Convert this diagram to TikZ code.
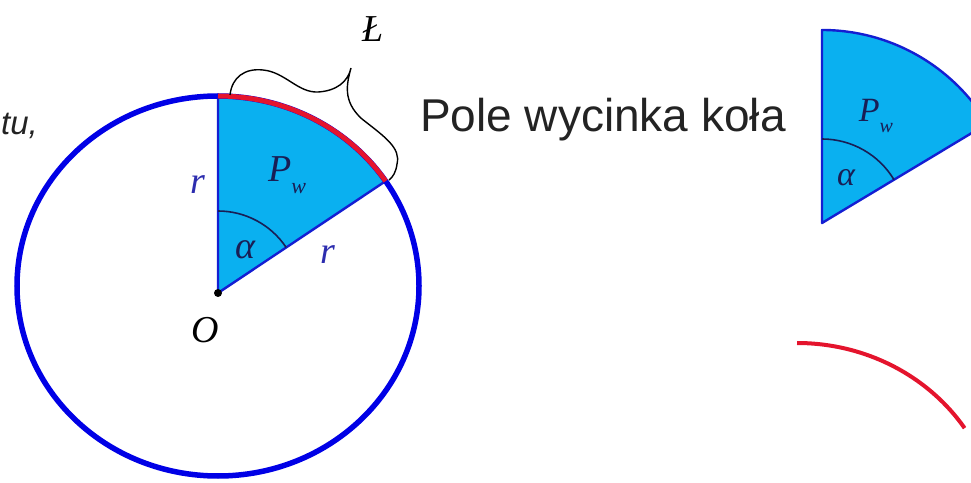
\documentclass[tikz,border=0pt]{standalone}
\usepackage{fontspec}
\setmainfont{Liberation Serif}
\newfontfamily\arialfont{Liberation Sans}
\definecolor{circblue}{RGB}{0,0,230}
\definecolor{wedgecyan}{RGB}{10,176,240}
\definecolor{edgeblue}{RGB}{20,30,210}
\definecolor{arcred}{RGB}{228,20,45}
\definecolor{labblue}{RGB}{45,45,175}
\definecolor{inkdark}{RGB}{25,30,85}
\definecolor{textgray}{RGB}{35,35,35}
\usetikzlibrary{calc}

\begin{document}
\begin{tikzpicture}[x=1pt, y=1pt,
  circ/.style={draw=circblue, line width=5.5pt},
  wedge/.style={fill=wedgecyan, draw=edgeblue, line width=2.4pt, line join=round},
  arcline/.style={draw=arcred, line width=5pt},
  anglearc/.style={draw=inkdark, line width=1.6pt},
  mlbl/.style={font=\fontsize{38}{38}\selectfont\itshape, inner sep=0pt},
  slbl/.style={font=\fontsize{34}{34}\selectfont\itshape, inner sep=0pt, text=inkdark},
  bracelin/.style={draw=black, line width=1.4pt}
]
  \clip (0,0) rectangle (971,482);

  % --- circle with the sector ---
  \coordinate (C) at (218,196);
  \coordinate (O) at (218,189);
  \coordinate (T) at (218,386);
  \coordinate (P) at ($(C)+({201*cos(33.5)},{190*sin(33.5)})$);
  \filldraw[wedge] (O) -- (T) arc[start angle=90, end angle=33.5, x radius=201, y radius=190] -- cycle;
  \draw[circ] (C) ellipse[x radius=201, y radius=190];
  \draw[arcline] (T) arc[start angle=90, end angle=33.5, x radius=201, y radius=190];
  \draw[anglearc] ($(O)+(0,82)$) arc[start angle=90, end angle=33.8, radius=82];
  \fill[black] (O) circle (4);

  \node[mlbl, text=labblue] (rv) at (198,297) {r};
  \node[mlbl, text=labblue] (rs) at (328,227) {r};
  \node[mlbl, text=inkdark] (al) at (245,232) {α};
  \node[mlbl, text=inkdark] (pw) at (287,307) {P\raisebox{-0.3em}{\fontsize{22}{22}\selectfont w}};
  \node[mlbl, text=black] (ol) at (205,152) {O};
  \node[mlbl, text=black] (ll) at (373,453) {Ł};

  % --- brace over the arc ---
  \coordinate (bs) at (230,387);
  \coordinate (be) at (389,302);
  \draw[bracelin] (bs) .. controls (232,405) and (245,414) .. (263,412)
    .. controls (285,410) and (298,389) .. (318,390)
    .. controls (336,391) and (348,400) .. (351,414)
    .. controls (347,399) and (342,381) .. (362,363)
    .. controls (385,345) and (401,334) .. (397,318)
    .. controls (396,310) and (393,305) .. (be);

  % --- texts ---
  \node[anchor=base west, inner sep=0pt, text=textgray, font=\arialfont\itshape\fontsize{33}{33}\selectfont] (cut) at (1,347) {tu,};
  \node[anchor=base west, inner sep=0pt, text=textgray, font=\arialfont\fontsize{46}{46}\selectfont] (title) at (420,350) {Pole wycinka koła};

  % --- sector alone ---
  \coordinate (O2) at (822,259);
  \coordinate (T2) at (822,452);
  \filldraw[wedge] (O2) -- (T2) arc[start angle=90, end angle=31, radius=193] -- cycle;
  \draw[anglearc] ($(O2)+(0,84)$) arc[start angle=90, end angle=31, radius=84];
  \node[slbl] (al2) at (846,304) {α};
  \node[slbl] (pw2) at (876,366) {P\raisebox{-0.3em}{\fontsize{20}{20}\selectfont w}};

  % --- arc alone ---
  \coordinate (A1) at (797,139);
  \draw[arcline, line width=4pt] (A1) arc[start angle=90, end angle=33.5, x radius=201, y radius=190];
\end{tikzpicture}
\end{document}
